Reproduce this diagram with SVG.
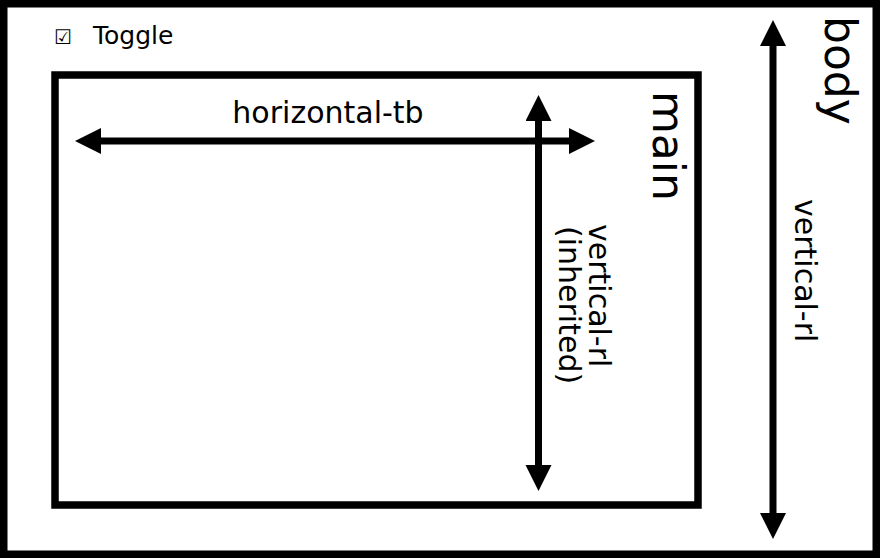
<svg xmlns="http://www.w3.org/2000/svg" width="880" height="558" viewBox="0 0 880 558">
  <style>
    .box { fill: none; stroke: #000; stroke-width: 7.5; }
    .conn line { stroke: #000; stroke-width: 7; }
    text { font-family: "DejaVu Sans", "Liberation Sans", sans-serif; fill: #000; }
    .lbl { font-size: 30px; }
    .big { font-size: 44px; }
  </style>
  <defs>
    <marker id="ah" markerUnits="userSpaceOnUse" markerWidth="27" markerHeight="27" refX="0" refY="13" orient="auto-start-reverse" viewBox="0 0 27 27">
      <path d="M0,0 L26,13 L0,26 Z" fill="#000"/>
    </marker>
  </defs>
  <rect x="0" y="0" width="880" height="558" fill="#fff"/>
  <g id="body">
    <rect class="box" x="3.75" y="3.75" width="872.5" height="550.5"/>
    <text class="big" transform="translate(825,16) rotate(90)" x="0" y="0">body</text>
  </g>
  <g id="toggle">
    <text x="54" y="44" style="font-size:20px">☑</text>
    <text x="93" y="44" style="font-size:25px">Toggle</text>
  </g>
  <g id="main">
    <rect class="box" x="55" y="75" width="643" height="430"/>
    <text class="big" transform="translate(653,91) rotate(90)" x="0" y="0">main</text>
  </g>
  <g id="connectors" class="conn">
    <line x1="101" y1="141" x2="569" y2="141" marker-start="url(#ah)" marker-end="url(#ah)"/>
    <line x1="538.5" y1="121" x2="538.5" y2="465" marker-start="url(#ah)" marker-end="url(#ah)"/>
    <line x1="773" y1="46" x2="773" y2="513" marker-start="url(#ah)" marker-end="url(#ah)"/>
  </g>
  <g id="labels">
    <text class="lbl" x="328" y="123" text-anchor="middle">horizontal-tb</text>
    <text class="lbl" transform="translate(589,224) rotate(90)">vertical-rl</text>
    <text class="lbl" transform="translate(559,226) rotate(90)">(inherited)</text>
    <text class="lbl" transform="translate(795,199) rotate(90)">vertical-rl</text>
  </g>
</svg>
